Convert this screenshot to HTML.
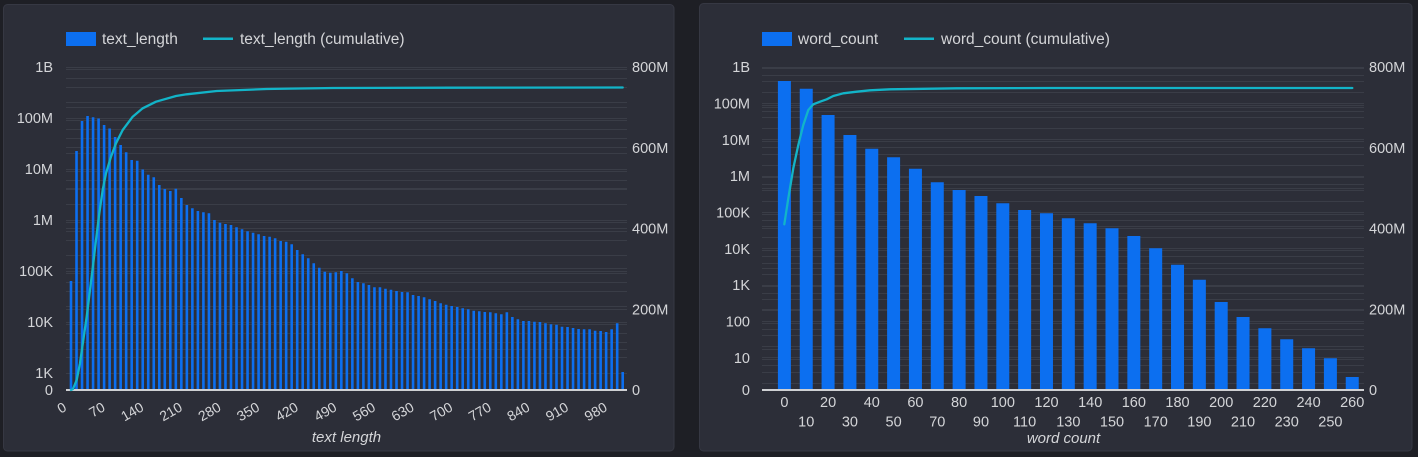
<!DOCTYPE html>
<html>
<head>
<meta charset="utf-8">
<style>
  html,body{margin:0;padding:0;background:#1e1f25;width:1418px;height:457px;overflow:hidden;}
  svg{display:block;}
  text{font-family:"Liberation Sans",sans-serif;fill:#d4d5d8;}
  .ax{font-size:14.5px;}
  .lg{font-size:15.5px;}
  .tt{font-size:15px;font-style:italic;}
</style>
</head>
<body>
<svg width="1418" height="457" viewBox="0 0 1418 457" xmlns="http://www.w3.org/2000/svg">
  <rect x="0" y="0" width="1418" height="457" fill="#1e1f25"/>
  <!-- panels -->
  <rect x="3.5" y="4.5" width="670.5" height="446.5" rx="4" fill="#2c2e38" stroke="#363843"/>
  <rect x="699.5" y="3.5" width="712.5" height="447.5" rx="4" fill="#2c2e38" stroke="#363843"/>

  <!-- ================= LEFT CHART ================= -->
  <!-- legend -->
  <rect x="66" y="32" width="30" height="14" fill="#0c6ff0"/>
  <text class="lg" x="102" y="44">text_length</text>
  <line x1="203" y1="38.7" x2="233" y2="38.7" stroke="#12b4c8" stroke-width="2.5"/>
  <text class="lg" x="240" y="44">text_length (cumulative)</text>

  <!-- gridlines -->
  <path fill="none" stroke="#3a3d47" stroke-width="1" d="
    M66 67.5H627 M66 118.5H627 M66 169.5H627 M66 220.5H627 M66 271.5H627 M66 322.5H627 M66 373.5H627
    M66 102.5H627 M66 87.5H627 M66 78.5H627 M66 69.5H627
    M66 153.5H627 M66 138.5H627 M66 129.5H627 M66 120.5H627
    M66 204.5H627 M66 189.5H627 M66 180.5H627 M66 171.5H627
    M66 255.5H627 M66 240.5H627 M66 231.5H627 M66 222.5H627
    M66 306.5H627 M66 291.5H627 M66 282.5H627 M66 273.5H627
    M66 357.5H627 M66 342.5H627 M66 333.5H627 M66 324.5H627
    M66 349.5H627 M66 309.5H627 M66 268.5H627 M66 228.5H627 M66 188.5H627 M66 147.5H627 M66 107.5H627"/>

  <!-- bars -->
  <path fill="#0c6ff0" d="M69.7 390
V281h2.6V390m2.917 0 V151h2.6V390m2.917 0 V121h2.6V390m2.917 0 V116h2.6V390m2.917 0 V117.3h2.6V390m2.917 0
V118.5h2.6V390m2.917 0 V125h2.6V390m2.917 0 V128.5h2.6V390m2.917 0 V137h2.6V390m2.917 0 V145h2.6V390m2.917 0
V152.3h2.6V390m2.917 0 V160h2.6V390m2.917 0 V160.7h2.6V390m2.917 0 V169.5h2.6V390m2.917 0 V174.7h2.6V390m2.917 0
V177.3h2.6V390m2.917 0 V185h2.6V390m2.917 0 V189h2.6V390m2.917 0 V191h2.6V390m2.917 0 V188.7h2.6V390m2.917 0
V198h2.6V390m2.917 0 V205h2.6V390m2.917 0 V208.3h2.6V390m2.917 0 V211h2.6V390m2.917 0 V212.3h2.6V390m2.917 0
V213.3h2.6V390m2.917 0 V220h2.6V390m2.917 0 V222.7h2.6V390m2.917 0 V224h2.6V390m2.917 0 V225h2.6V390m2.917 0
V227.3h2.6V390m2.917 0 V229.3h2.6V390m2.917 0 V231.3h2.6V390m2.917 0 V232.7h2.6V390m2.917 0 V234.3h2.6V390m2.917 0
V236h2.6V390m2.917 0 V236.7h2.6V390m2.917 0 V238.3h2.6V390m2.917 0 V241h2.6V390m2.917 0 V241.7h2.6V390m2.917 0
V244.3h2.6V390m2.917 0 V250h2.6V390m2.917 0 V254.3h2.6V390m2.917 0 V258.3h2.6V390m2.917 0 V263.3h2.6V390m2.917 0
V267.7h2.6V390m2.917 0 V271.7h2.6V390m2.917 0 V272.7h2.6V390m2.917 0 V272.3h2.6V390m2.917 0 V271h2.6V390m2.917 0
V273.3h2.6V390m2.917 0 V278.3h2.6V390m2.917 0 V282h2.6V390m2.917 0 V283.3h2.6V390m2.917 0 V285h2.6V390m2.917 0
V287.3h2.6V390m2.917 0 V287.3h2.6V390m2.917 0 V288.7h2.6V390m2.917 0 V289.7h2.6V390m2.917 0 V291h2.6V390m2.917 0
V292h2.6V390m2.917 0 V292.3h2.6V390m2.917 0 V295h2.6V390m2.917 0 V296h2.6V390m2.917 0 V297.3h2.6V390m2.917 0
V299.3h2.6V390m2.917 0 V301h2.6V390m2.917 0 V303.3h2.6V390m2.917 0 V304.7h2.6V390m2.917 0 V306h2.6V390m2.917 0
V307h2.6V390m2.917 0 V308.3h2.6V390m2.917 0 V309.3h2.6V390m2.917 0 V310.7h2.6V390m2.917 0 V311.3h2.6V390m2.917 0
V312h2.6V390m2.917 0 V312.3h2.6V390m2.917 0 V313.3h2.6V390m2.917 0 V314.3h2.6V390m2.917 0 V312.3h2.6V390m2.917 0
V317h2.6V390m2.917 0 V319.3h2.6V390m2.917 0 V321h2.6V390m2.917 0 V321h2.6V390m2.917 0 V321.7h2.6V390m2.917 0
V322h2.6V390m2.917 0 V323.3h2.6V390m2.917 0 V324.3h2.6V390m2.917 0 V324.7h2.6V390m2.917 0 V326.7h2.6V390m2.917 0
V327h2.6V390m2.917 0 V328h2.6V390m2.917 0 V329h2.6V390m2.917 0 V329.3h2.6V390m2.917 0 V329.3h2.6V390m2.917 0
V330.7h2.6V390m2.917 0 V331h2.6V390m2.917 0 V332h2.6V390m2.917 0 V329.3h2.6V390m2.917 0 V323.3h2.6V390m2.917 0
V372h2.6V390"/>

  <!-- baseline -->
  <line x1="66" y1="390" x2="627" y2="390" stroke="#cfd0d3" stroke-width="2"/>

  <!-- cumulative line -->
  <polyline fill="none" stroke="#12b4c8" stroke-width="2.3" stroke-linejoin="round" stroke-linecap="round"
    points="71,390 73,389 76.7,380 80,363.3 83.3,340 86.7,316.7 90,290 93.3,263.3 96,240 99.3,213.3 102.7,190 106,173.3 111,156.7 116,143.3 122.7,130 132.7,116.7 142.7,108.3 156,101.7 176,96 186.7,94.3 216.7,91 266.7,89 333,88 450,87.7 622.7,87.5"/>

  <!-- left y labels -->
  <g class="ax" text-anchor="end">
    <text x="53" y="72.2">1B</text>
    <text x="53" y="123.2">100M</text>
    <text x="53" y="174.2">10M</text>
    <text x="53" y="225.2">1M</text>
    <text x="53" y="276.2">100K</text>
    <text x="53" y="327.2">10K</text>
    <text x="53" y="378.2">1K</text>
    <text x="53" y="395.2">0</text>
  </g>
  <!-- right y labels -->
  <g class="ax">
    <text x="632" y="72.2">800M</text>
    <text x="632" y="153">600M</text>
    <text x="632" y="233.7">400M</text>
    <text x="632" y="314.5">200M</text>
    <text x="632" y="395.2">0</text>
  </g>
  <!-- x labels rotated -->
  <g class="ax" text-anchor="end" style="font-size:14px">
    <text transform="translate(67.5,410) rotate(-30)">0</text>
    <text transform="translate(106.1,410) rotate(-30)">70</text>
    <text transform="translate(144.7,410) rotate(-30)">140</text>
    <text transform="translate(183.4,410) rotate(-30)">210</text>
    <text transform="translate(222,410) rotate(-30)">280</text>
    <text transform="translate(260.6,410) rotate(-30)">350</text>
    <text transform="translate(299.2,410) rotate(-30)">420</text>
    <text transform="translate(337.8,410) rotate(-30)">490</text>
    <text transform="translate(376.5,410) rotate(-30)">560</text>
    <text transform="translate(415.1,410) rotate(-30)">630</text>
    <text transform="translate(453.7,410) rotate(-30)">700</text>
    <text transform="translate(492.3,410) rotate(-30)">770</text>
    <text transform="translate(530.9,410) rotate(-30)">840</text>
    <text transform="translate(569.5,410) rotate(-30)">910</text>
    <text transform="translate(608.2,410) rotate(-30)">980</text>
  </g>
  <text class="tt" x="346.5" y="442" text-anchor="middle">text length</text>

  <!-- ================= RIGHT CHART ================= -->
  <rect x="762" y="32" width="30" height="14" fill="#0c6ff0"/>
  <text class="lg" x="798" y="44">word_count</text>
  <line x1="904" y1="38.7" x2="934" y2="38.7" stroke="#12b4c8" stroke-width="2.5"/>
  <text class="lg" x="941" y="44">word_count (cumulative)</text>

  <path fill="none" stroke="#3a3d47" stroke-width="1" d="
    M762 67.5H1364 M762 103.5H1364 M762 139.5H1364 M762 176.5H1364 M762 212.5H1364 M762 248.5H1364 M762 285.5H1364 M762 321.5H1364 M762 357.5H1364
    M762 92.5H1364 M762 81.5H1364 M762 75.5H1364 M762 68.5H1364
    M762 128.5H1364 M762 117.5H1364 M762 111.5H1364 M762 105.5H1364
    M762 165.5H1364 M762 154.5H1364 M762 147.5H1364 M762 141.5H1364
    M762 201.5H1364 M762 190.5H1364 M762 184.5H1364 M762 177.5H1364
    M762 237.5H1364 M762 226.5H1364 M762 220.5H1364 M762 214.5H1364
    M762 274.5H1364 M762 263.5H1364 M762 256.5H1364 M762 250.5H1364
    M762 310.5H1364 M762 299.5H1364 M762 293.5H1364 M762 286.5H1364
    M762 346.5H1364 M762 335.5H1364 M762 329.5H1364 M762 323.5H1364
    M762 383.5H1364 M762 372.5H1364 M762 365.5H1364 M762 359.5H1364
    M762 349.5H1364 M762 309.5H1364 M762 268.5H1364 M762 228.5H1364 M762 188.5H1364 M762 107.5H1364"/>

  <path fill="#0c6ff0" d="M777.9 390
V81h13V390m8.84 0 V88.7h13V390m8.84 0 V115h13V390m8.84 0 V135h13V390m8.84 0 V148.7h13V390m8.84 0
V157.3h13V390m8.84 0 V168.7h13V390m8.84 0 V182.3h13V390m8.84 0 V190h13V390m8.84 0 V196h13V390m8.84 0
V203.3h13V390m8.84 0 V210h13V390m8.84 0 V213.3h13V390m8.84 0 V218.3h13V390m8.84 0 V223.3h13V390m8.84 0
V228.3h13V390m8.84 0 V236h13V390m8.84 0 V248.3h13V390m8.84 0 V264.7h13V390m8.84 0 V279.7h13V390m8.84 0
V302h13V390m8.84 0 V317h13V390m8.84 0 V328.3h13V390m8.84 0 V339.3h13V390m8.84 0 V348.3h13V390m8.84 0
V358.3h13V390m8.84 0 V377h13V390"/>

  <line x1="762" y1="390" x2="1364" y2="390" stroke="#cfd0d3" stroke-width="2"/>

  <polyline fill="none" stroke="#12b4c8" stroke-width="2.3" stroke-linejoin="round" stroke-linecap="round"
    points="784.3,224.3 788.3,198.3 793.3,168.3 798.3,145 803.3,125 808.3,110 813.3,104.3 820,101.7 826.7,99.3 833.3,96 843.3,93.3 856.7,91.7 870,90.3 890,89.3 956.7,88.3 1050,88 1352.3,88"/>

  <g class="ax" text-anchor="end">
    <text x="750" y="72.2">1B</text>
    <text x="750" y="108.5">100M</text>
    <text x="750" y="144.9">10M</text>
    <text x="750" y="181.2">1M</text>
    <text x="750" y="217.5">100K</text>
    <text x="750" y="253.9">10K</text>
    <text x="750" y="290.2">1K</text>
    <text x="750" y="326.5">100</text>
    <text x="750" y="362.9">10</text>
    <text x="750" y="395.2">0</text>
  </g>
  <g class="ax">
    <text x="1369" y="72.2">800M</text>
    <text x="1369" y="153">600M</text>
    <text x="1369" y="233.7">400M</text>
    <text x="1369" y="314.5">200M</text>
    <text x="1369" y="395.2">0</text>
  </g>
  <g class="ax" text-anchor="middle">
    <text x="784.4" y="407">0</text>
    <text x="828.1" y="407">20</text>
    <text x="871.8" y="407">40</text>
    <text x="915.4" y="407">60</text>
    <text x="959.1" y="407">80</text>
    <text x="1002.8" y="407">100</text>
    <text x="1046.5" y="407">120</text>
    <text x="1090.2" y="407">140</text>
    <text x="1133.8" y="407">160</text>
    <text x="1177.5" y="407">180</text>
    <text x="1221.2" y="407">200</text>
    <text x="1264.9" y="407">220</text>
    <text x="1308.6" y="407">240</text>
    <text x="1352.2" y="407">260</text>
    <text x="806.2" y="426.3">10</text>
    <text x="849.9" y="426.3">30</text>
    <text x="893.6" y="426.3">50</text>
    <text x="937.3" y="426.3">70</text>
    <text x="981" y="426.3">90</text>
    <text x="1024.6" y="426.3">110</text>
    <text x="1068.3" y="426.3">130</text>
    <text x="1112" y="426.3">150</text>
    <text x="1155.7" y="426.3">170</text>
    <text x="1199.4" y="426.3">190</text>
    <text x="1243" y="426.3">210</text>
    <text x="1286.7" y="426.3">230</text>
    <text x="1330.4" y="426.3">250</text>
  </g>
  <text class="tt" x="1063.5" y="443" text-anchor="middle">word count</text>
</svg>
</body>
</html>
